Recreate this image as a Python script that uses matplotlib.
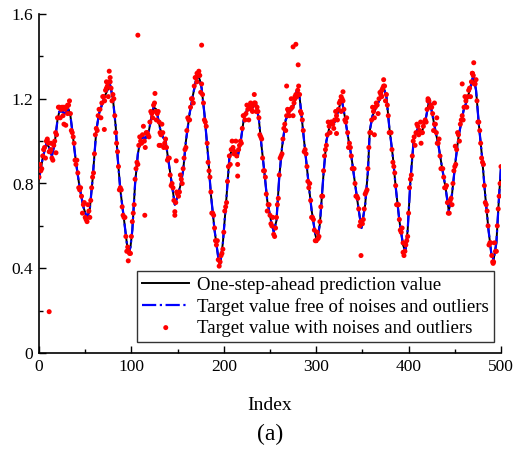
import matplotlib
matplotlib.use("Agg")
import matplotlib.pyplot as plt
from matplotlib.ticker import MultipleLocator, FuncFormatter

plt.rcParams['font.family'] = ['Liberation Serif', 'DejaVu Serif']

# Key points of the prediction / clean target curve (index, value)
line_x = [0, 4, 8, 11, 14, 17, 20, 22, 25, 28, 32, 34, 36, 40, 44, 48, 52, 55, 58, 62,
          65, 68, 71, 74, 77, 80, 83, 85, 88, 92, 95, 97, 99, 101, 104, 107, 110, 113, 115, 119,
          122, 124, 127, 131, 134, 137, 140, 144, 147, 150, 153, 156, 159, 163, 167, 170, 172, 174, 176, 179,
          183, 186, 190, 194, 196, 199, 203, 206, 209, 213, 215, 218, 222, 225, 230, 235, 238, 241, 244, 247,
          251, 254, 257, 260, 263, 267, 271, 275, 279, 282, 285, 288, 292, 295, 299, 301, 304, 308, 311, 315,
          320, 324, 327.5, 331, 335, 338, 342, 346, 349, 353, 356, 358, 361, 366, 370, 373, 376, 379, 383, 386,
          390, 394, 396.5, 399, 402, 405.5, 410, 414, 419, 422.5, 426, 429, 432.5, 436, 440, 443.5, 447, 450.5, 454, 459.5,
          463, 467, 470, 473, 476, 479.5, 483, 486.5, 489.5, 492, 495, 497.5, 500]
line_y = [0.82, 0.92, 0.99, 0.97, 0.93, 0.99, 1.10, 1.14, 1.14, 1.13, 1.15, 1.12, 1.05, 0.90, 0.78, 0.69, 0.635, 0.68, 0.82, 1.05,
          1.13, 1.17, 1.21, 1.24, 1.265, 1.20, 1.07, 0.93, 0.77, 0.63, 0.52, 0.47, 0.50, 0.58, 0.80, 0.94, 1.01, 1.02, 1.01, 1.05,
          1.12, 1.16, 1.15, 1.06, 1.02, 1.00, 0.91, 0.79, 0.70, 0.74, 0.79, 0.86, 1.00, 1.13, 1.225, 1.29, 1.31, 1.29, 1.25, 1.13,
          0.93, 0.75, 0.58, 0.45, 0.415, 0.52, 0.74, 0.92, 0.965, 0.95, 0.925, 0.99, 1.115, 1.145, 1.155, 1.175, 1.10, 0.97, 0.85, 0.72,
          0.625, 0.572, 0.625, 0.83, 0.97, 1.10, 1.14, 1.155, 1.24, 1.21, 1.08, 0.955, 0.79, 0.675, 0.56, 0.525, 0.61, 0.85, 1.00, 1.08,
          1.09, 1.145, 1.20, 1.115, 1.005, 0.93, 0.80, 0.675, 0.59, 0.70, 0.86, 1.05, 1.12, 1.17, 1.21, 1.255, 1.21, 1.07, 0.925, 0.785,
          0.625, 0.51, 0.478, 0.58, 0.815, 1.005, 1.06, 1.035, 1.115, 1.20, 1.12, 1.05, 0.975, 0.88, 0.78, 0.67, 0.75, 0.895, 1.02, 1.145,
          1.19, 1.255, 1.31, 1.24, 1.08, 0.925, 0.74, 0.58, 0.47, 0.44, 0.52, 0.71, 0.88]

# Noisy target values at even indices
even_x = list(range(0, 501, 2))
even_y = [0.83, 0.86, 0.93, 0.97, 1.00, 0.99, 0.95, 0.92, 0.98, 1.04, 1.11, 1.16, 1.15, 1.12, 1.15, 1.16, 1.17, 1.13, 1.04, 0.99,
          0.89, 0.85, 0.77, 0.74, 0.70, 0.64, 0.62, 0.67, 0.72, 0.83, 0.94, 1.06, 1.12, 1.15, 1.18, 1.21, 1.24, 1.26, 1.28, 1.25,
          1.22, 1.12, 0.99, 0.88, 0.78, 0.69, 0.64, 0.55, 0.50, 0.47, 0.55, 0.66, 0.82, 0.90, 0.98, 1.00, 1.03, 1.00, 1.04, 1.03,
          1.09, 1.13, 1.17, 1.14, 1.13, 1.09, 1.03, 1.04, 0.99, 0.97, 0.92, 0.84, 0.80, 0.72, 0.71, 0.75, 0.76, 0.82, 0.87, 0.96,
          1.05, 1.10, 1.16, 1.20, 1.26, 1.30, 1.32, 1.31, 1.27, 1.18, 1.09, 0.99, 0.86, 0.76, 0.66, 0.59, 0.51, 0.44, 0.43, 0.47,
          0.57, 0.69, 0.81, 0.93, 0.96, 0.97, 0.95, 0.93, 0.96, 1.00, 1.06, 1.12, 1.13, 1.15, 1.16, 1.15, 1.17, 1.18, 1.16, 1.11,
          1.02, 0.92, 0.86, 0.75, 0.70, 0.65, 0.60, 0.56, 0.59, 0.70, 0.84, 0.93, 1.01, 1.08, 1.12, 1.14, 1.15, 1.16, 1.18, 1.22,
          1.24, 1.22, 1.13, 1.05, 0.96, 0.88, 0.78, 0.72, 0.64, 0.58, 0.53, 0.54, 0.62, 0.74, 0.86, 0.96, 1.03, 1.07, 1.09, 1.08,
          1.10, 1.12, 1.15, 1.19, 1.20, 1.15, 1.09, 1.04, 0.99, 0.93, 0.87, 0.80, 0.74, 0.68, 0.62, 0.61, 0.68, 0.76, 0.87, 1.04,
          1.10, 1.14, 1.16, 1.17, 1.20, 1.22, 1.25, 1.26, 1.22, 1.12, 1.04, 0.96, 0.88, 0.79, 0.70, 0.63, 0.57, 0.52, 0.48, 0.53,
          0.66, 0.82, 0.93, 1.02, 1.04, 1.07, 1.05, 1.04, 1.07, 1.10, 1.15, 1.19, 1.17, 1.13, 1.08, 1.04, 0.99, 0.93, 0.87, 0.83,
          0.78, 0.71, 0.66, 0.73, 0.80, 0.88, 0.96, 1.03, 1.08, 1.12, 1.16, 1.19, 1.21, 1.25, 1.28, 1.31, 1.27, 1.19, 1.09, 0.99,
          0.90, 0.79, 0.70, 0.60, 0.52, 0.46, 0.43, 0.48, 0.60, 0.74, 0.88]

# Noisy target values at odd indices (more scattered)
odd_x = list(range(1, 500, 2))
odd_y = [0.89, 0.87, 0.96, 0.92, 1.01, 0.95, 0.99, 0.91, 1.00, 1.03,
         1.16, 1.11, 1.16, 1.08, 1.16, 1.13, 1.19, 1.05, 1.02, 0.91,
         0.91, 0.78, 0.78, 0.66, 0.71, 0.63, 0.70, 0.64, 0.78, 0.85,
         1.03, 1.05, 1.15, 1.11, 1.21, 1.19, 1.28, 1.21, 1.28, 1.19,
         1.20, 1.04, 0.95, 0.77, 0.77, 0.65, 0.64, 0.48, 0.48, 0.47,
         0.62, 0.70, 0.87, 0.89, 1.02, 0.99, 1.07, 0.97, 1.04, 1.02,
         1.14, 1.11, 1.18, 1.10, 1.14, 1.04, 1.08, 0.97, 1.01, 0.91,
         0.92, 0.79, 0.78, 0.65, 0.76, 0.74, 0.84, 0.80, 0.92, 0.97,
         1.11, 1.10, 1.20, 1.18, 1.30, 1.28, 1.33, 1.23, 1.22, 1.10,
         1.07, 0.90, 0.83, 0.66, 0.65, 0.53, 0.53, 0.41, 0.46, 0.49,
         0.67, 0.71, 0.88, 0.89, 1.00, 0.94, 1.00, 0.89, 0.98, 0.99,
         1.12, 1.10, 1.17, 1.10, 1.18, 1.14, 1.22, 1.14, 1.14, 1.03,
         1.01, 0.86, 0.83, 0.67, 0.70, 0.61, 0.64, 0.55, 0.64, 0.73,
         0.92, 0.94, 1.06, 1.05, 1.15, 1.12, 1.20, 1.12, 1.21, 1.21,
         1.26, 1.14, 1.10, 0.95, 0.94, 0.81, 0.80, 0.64, 0.63, 0.53,
         0.57, 0.55, 0.69, 0.74, 0.93, 0.98, 1.09, 1.04, 1.09, 1.06,
         1.14, 1.10, 1.18, 1.14, 1.19, 1.10, 1.11, 0.97, 0.97, 0.87,
         0.87, 0.74, 0.73, 0.60, 0.62, 0.63, 0.75, 0.77, 0.97, 1.04,
         1.16, 1.11, 1.18, 1.13, 1.23, 1.21, 1.29, 1.19, 1.17, 1.04,
         1.04, 0.90, 0.85, 0.70, 0.70, 0.58, 0.59, 0.46, 0.51, 0.55,
         0.78, 0.84, 1.00, 0.98, 1.08, 1.03, 1.09, 1.04, 1.09, 1.09,
         1.20, 1.16, 1.16, 1.05, 1.08, 0.99, 1.01, 0.87, 0.87, 0.78,
         0.79, 0.66, 0.72, 0.70, 0.86, 0.89, 1.04, 1.00, 1.10, 1.10,
         1.21, 1.16, 1.24, 1.21, 1.32, 1.27, 1.29, 1.09, 1.05, 0.92,
         0.89, 0.71, 0.67, 0.51, 0.52, 0.43, 0.52, 0.48, 0.68, 0.80]

# Visible outliers and off-curve points
out_x = [11, 107, 176, 275, 278, 280.5, 268, 470.5, 76, 77, 114.5, 148.5, 147, 215, 348.5,
         329, 363, 322, 413.5, 430.5, 428, 450.5, 458, 394, 491.5, 70.7, 29, 18.4, 96.6, 125.5,
         130, 131.5, 9, 13, 27, 31, 73, 171, 173, 233, 277, 327, 371, 373, 421, 469]
out_y = [0.195, 1.50, 1.453, 1.445, 1.457, 1.36, 1.26, 1.37, 1.33, 1.30, 0.65, 0.907, 0.667, 0.835, 0.46,
         1.233, 1.03, 1.036, 0.99, 1.11, 1.18, 0.976, 1.27, 0.475, 0.423, 1.055, 1.075, 0.945, 0.435, 1.225,
         0.98, 0.98, 1.00, 0.96, 1.16, 1.17, 1.25, 1.32, 1.31, 1.18, 1.20, 1.21, 1.24, 1.26, 1.19, 1.32]

legend_labels = ["One-step-ahead prediction value",
                 "Target value free of noises and outliers",
                 "Target value with noises and outliers"]

dot_x = even_x + odd_x + out_x
dot_y = even_y + odd_y + out_y

fig = plt.figure(figsize=(5.18, 4.5), dpi=100)
ax = fig.add_axes([39 / 518, 1 - 353 / 450, 462 / 518, 339 / 450])

ax.plot(line_x, line_y, color='black', lw=1.4, label=legend_labels[0])
ax.plot(line_x, line_y, color='#0000ff', lw=1.6, ls='-.', label=legend_labels[1])
ax.scatter(dot_x, dot_y, s=13, color='#ff0000', edgecolors='none', zorder=3, label=legend_labels[2])

ax.set_xlim(0, 500)
ax.set_ylim(0, 1.6)
ax.xaxis.set_major_locator(MultipleLocator(100))
ax.xaxis.set_minor_locator(MultipleLocator(50))
ax.yaxis.set_major_locator(MultipleLocator(0.4))
ax.yaxis.set_minor_locator(MultipleLocator(0.2))
ax.yaxis.set_major_formatter(FuncFormatter(lambda v, p: '0' if v == 0 else f'{v:.1f}'))
ax.tick_params(which='major', direction='in', length=5, width=1, labelsize=12.5, pad=4)
ax.tick_params(which='minor', direction='in', length=3, width=1)
for s in ['top', 'right']:
    ax.spines[s].set_visible(False)
for s in ['left', 'bottom']:
    ax.spines[s].set_linewidth(1.2)

ax.set_xlabel('Index', fontsize=14, labelpad=16)
fig.text(0.5 * (39 + 501) / 518, 1 - 434 / 450, '(a)', ha='center', va='center', fontsize=17)

leg = ax.legend(loc='lower right', bbox_to_anchor=(0.985, 0.032), fontsize=13.5, frameon=True,
                fancybox=False, edgecolor='black', borderaxespad=0, handlelength=2.5,
                labelspacing=0.2, borderpad=0.3, handletextpad=0.4)
leg.get_frame().set_linewidth(1.0)

fig.savefig('out.png', dpi=100)
